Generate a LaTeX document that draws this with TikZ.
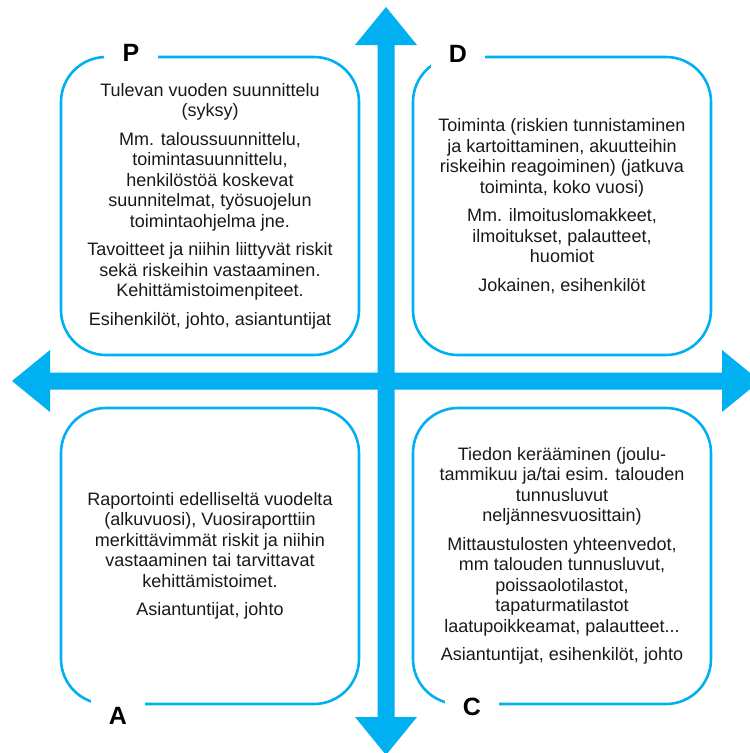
\documentclass[tikz,border=0pt]{standalone}
\usepackage{fontspec}
\setmainfont{Liberation Sans}
\definecolor{cyc}{HTML}{00B0F0}
\tikzset{
  quad/.style={draw=cyc, line width=2.6pt, rounded corners=45pt,
    minimum width=298pt, minimum height=298pt, inner sep=0pt,
    align=center, text=black!90,
    font=\fontsize{18}{20.5}\selectfont},
  phase/.style={fill=white, minimum width=54pt, minimum height=36pt,
    inner sep=0pt, font=\fontsize{25}{25}\bfseries},
  axis/.style={fill=cyc, draw=none}
}
\newcommand{\pgap}{\\[8pt]}
\begin{document}
\begin{tikzpicture}[x=1pt, y=-1pt]
\useasboundingbox (0,0) rectangle (750,753);

% cycle axes: a horizontal and a vertical double-headed arrow
\fill[axis] (12,381) -- (50,350) -- (50,372.5) -- (722,372.5) -- (722,350)
  -- (760,381) -- (722,412) -- (722,389.5) -- (50,389.5) -- (50,412) -- cycle;
\fill[axis] (386,7) -- (417,45) -- (394.5,45) -- (394.5,717) -- (417,717)
  -- (386,755) -- (355,717) -- (377.5,717) -- (377.5,45) -- (355,45) -- cycle;

% the four phases
\node[quad] (boxP) at (210,206) {Tulevan vuoden suunnittelu\\(syksy)\pgap
Mm. taloussuunnittelu,\\toimintasuunnittelu,\\henkilöstöä koskevat\\suunnitelmat, työsuojelun\\toimintaohjelma jne.\pgap
Tavoitteet ja niihin liittyvät riskit\\sekä riskeihin vastaaminen.\\Kehittämistoimenpiteet.\pgap
Esihenkilöt, johto, asiantuntijat};

\node[quad] (boxD) at (562,206) {Toiminta (riskien tunnistaminen\\ja kartoittaminen, akuutteihin\\riskeihin reagoiminen) (jatkuva\\toiminta, koko vuosi)\pgap
Mm. ilmoituslomakkeet,\\ilmoitukset, palautteet,\\huomiot\pgap
Jokainen, esihenkilöt};

\node[quad, minimum height=296pt] (boxA) at (210,556) {Raportointi edelliseltä vuodelta\\(alkuvuosi), Vuosiraporttiin\\merkittävimmät riskit ja niihin\\vastaaminen tai tarvittavat\\kehittämistoimet.\pgap
Asiantuntijat, johto};

\node[quad, minimum height=296pt] (boxC) at (562,556) {Tiedon kerääminen (joulu-\\tammikuu ja/tai esim. talouden\\tunnusluvut\\neljännesvuosittain)\pgap
Mittaustulosten yhteenvedot,\\mm talouden tunnusluvut,\\poissaolotilastot,\\tapaturmatilastot\\laatupoikkeamat, palautteet...\pgap
Asiantuntijat, esihenkilöt, johto};

% phase letters set into the box borders
\node[phase] (lP) at (131,53) {P};
\node[phase] (lD) at (458,54) {D};
\node[phase] (lA) at (118,716) {A};
\node[phase] (lC) at (472,707) {C};
\end{tikzpicture}
\end{document}
